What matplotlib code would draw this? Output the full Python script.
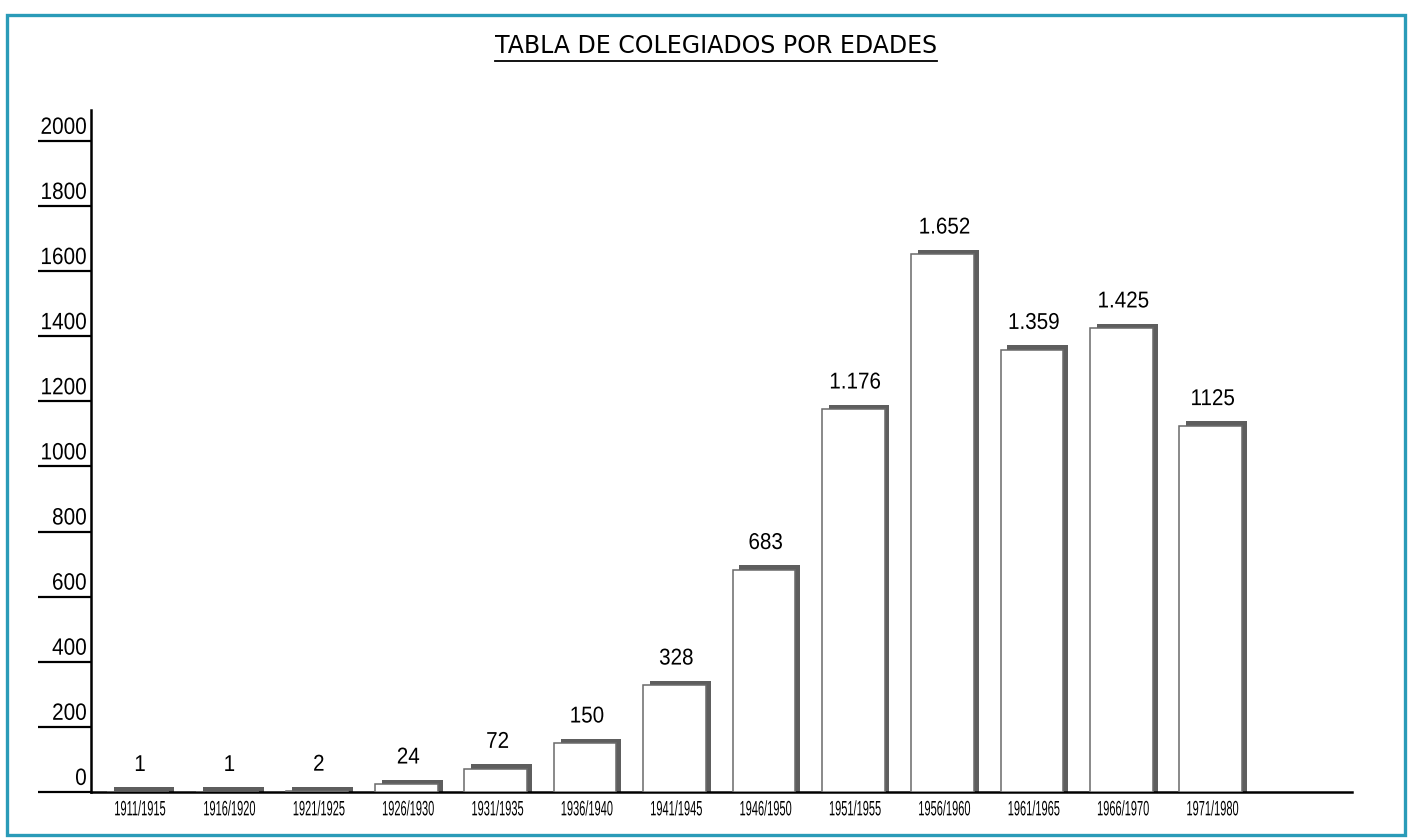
import matplotlib.pyplot as plt
from matplotlib.patches import Rectangle
from matplotlib.lines import Line2D
from matplotlib.patheffects import AbstractPathEffect
from matplotlib.transforms import Affine2D

# colegiados por periodo de nacimiento
periodos = ["1911/1915", "1916/1920", "1921/1925", "1926/1930", "1931/1935",
            "1936/1940", "1941/1945", "1946/1950", "1951/1955", "1956/1960",
            "1961/1965", "1966/1970", "1971/1980"]
colegiados = [1, 1, 2, 24, 72, 150, 328, 683, 1176, 1652, 1359, 1425, 1125]
etiquetas = ["1", "1", "2", "24", "72", "150", "328", "683", "1.176", "1.652",
             "1.359", "1.425", "1125"]
yticks = list(range(0, 2001, 200))


class Estrecha(AbstractPathEffect):
    """Estrecha horizontalmente el texto (tipografia condensada)."""

    def __init__(self, sx, ancla=0.5):
        super().__init__()
        self.sx = sx
        self.ancla = ancla

    def draw_path(self, renderer, gc, tpath, affine, rgbFace=None):
        ext = tpath.get_extents()
        cx = ext.x0 + (ext.x1 - ext.x0) * self.ancla
        t = Affine2D().translate(-cx, 0).scale(self.sx, 1).translate(cx, 0) + affine
        renderer.draw_path(gc, tpath, t, rgbFace)


W, H, DPI = 1409, 840, 100
fig = plt.figure(figsize=(W / DPI, H / DPI), dpi=DPI)
fig.patch.set_facecolor("white")

# marco exterior
fig.patches.append(Rectangle((7 / W, 5 / H), 1398 / W, 820 / H, transform=fig.transFigure,
                             fill=False, edgecolor="#2a9bb8", linewidth=2.4))

ax = fig.add_axes([91 / W, 48 / H, (1352 - 91) / W, (792 - 110) / H])
ax.set_xlim(-0.548, 13.56)
ax.set_ylim(0, 2095)

x = list(range(len(periodos)))
ancho = 0.70
sombra_dx = 0.065
sombra_dy = 14

# sombra gris arriba y a la derecha, barra blanca delante
ax.bar([i - 0.02 + sombra_dx for i in x], [v + sombra_dy for v in colegiados],
       width=ancho - 0.02, color="#5e5e5e", linewidth=0, zorder=2)
ax.bar([i - 0.02 for i in x], colegiados, width=ancho, color="white",
       edgecolor="#6a6a6a", linewidth=1.1, zorder=3)

for i, v, t in zip(x, colegiados, etiquetas):
    ax.annotate(t, xy=(i, v + sombra_dy), xytext=(0, 8), textcoords="offset points",
                ha="center", va="bottom", fontsize=16.5, family="Liberation Sans",
                path_effects=[Estrecha(0.9)])

for s in ["top", "right"]:
    ax.spines[s].set_visible(False)
ax.spines["left"].set_linewidth(1.8)
ax.spines["bottom"].set_linewidth(1.8)

ax.set_xticks(x)
ax.set_xticklabels(periodos, family="Liberation Sans", fontsize=15)
ax.tick_params(axis="x", length=0, pad=6)
for lab in ax.get_xticklabels():
    lab.set_path_effects([Estrecha(0.53)])

ax.set_yticks(yticks)
ax.set_yticklabels([])
ax.tick_params(axis="y", direction="out", length=38.5, width=1.6)
for v in yticks:
    ax.annotate(str(v), xy=(0, v), xycoords=("axes fraction", "data"), xytext=(-3, 1.5),
                textcoords="offset points", ha="right", va="bottom", fontsize=17,
                family="Liberation Sans", path_effects=[Estrecha(0.88, ancla=1.0)])

titulo = fig.text(716 / W, 1 - 46 / H, "TABLA DE COLEGIADOS POR EDADES", ha="center",
                  va="center", fontsize=17, family="DejaVu Sans")
fig.canvas.draw()
bb = titulo.get_window_extent().transformed(fig.transFigure.inverted())
fig.add_artist(Line2D([bb.x0, bb.x1], [bb.y0 - 3 / H, bb.y0 - 3 / H], transform=fig.transFigure,
                      color="black", linewidth=1.3))

fig.savefig("out.png", dpi=DPI)
